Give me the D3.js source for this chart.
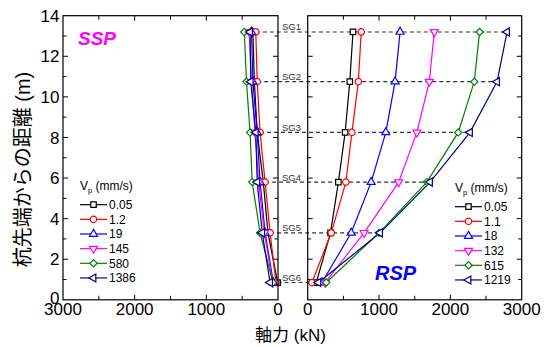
<!DOCTYPE html>
<html>
<head>
<meta charset="utf-8">
<script src="https://cdn.jsdelivr.net/npm/d3@7/dist/d3.min.js"></script>
<style>
  html, body { margin: 0; padding: 0; background: #fff; }
  svg { display: block; font-family: "Liberation Sans", Arial, "Noto Sans CJK JP", sans-serif; }
</style>
</head>
<body>
<svg id="chart" width="550" height="347"></svg>
<script>
// Strain gauge depths (m above pile tip) and names
const depths = [13.2, 10.75, 8.25, 5.8, 3.3, 0.85];
const gauges = ["SG1", "SG2", "SG3", "SG4", "SG5", "SG6"];

// SSP: loading rates (mm/s) and axial force (kN) at SG1..SG6
const sspRates = ["0.05", "1.2", "19", "145", "580", "1386"];
const ssp005  = [350, 330, 290, 205, 140, 5];
const ssp12   = [310, 290, 250, 180, 110, 28];
const ssp19   = [370, 350, 290, 250, 180, 65];
const ssp145  = [400, 370, 320, 270, 190, 75];
const ssp580  = [470, 440, 390, 360, 250, 70];
const ssp1386 = [390, 380, 310, 290, 220, 110];

// RSP: loading rates (mm/s) and axial force (kN) at SG1..SG6
const rspRates = ["0.05", "1.1", "18", "132", "615", "1219"];
const rsp005  = [635, 590, 525, 430, 320, 120];
const rsp11   = [750, 710, 620, 535, 330, 60];
const rsp18   = [1295, 1225, 1095, 890, 610, 200];
const rsp132  = [1775, 1705, 1530, 1275, 790, 245];
const rsp615  = [2410, 2335, 2110, 1670, 1000, 260];
const rsp1219 = [2795, 2655, 2275, 1715, 1015, 150];

// Axis ticks
const xTickLabels = [0, 1000, 2000, 3000];
const yTickLabels = [0, 2, 4, 6, 8, 10, 12, 14];

const colors = ["#000000", "#ff0000", "#0000ff", "#ff00ff", "#008000", "#000080"];
const shapes = ["square", "circle", "up", "down", "diamond", "left"];

const sspSeries = [ssp005, ssp12, ssp19, ssp145, ssp580, ssp1386];
const rspSeries = [rsp005, rsp11, rsp18, rsp132, rsp615, rsp1219];

const svg = d3.select("#chart");

const plotTop = 15.7, plotBottom = 299.8;
const y = d3.scaleLinear().domain([0, 14]).range([plotBottom, plotTop]);
const xL = d3.scaleLinear().domain([3000, 0]).range([63, 278]);
const xR = d3.scaleLinear().domain([0, 3000]).range([307.7, 521.7]);

function symbolPath(shape) {
  switch (shape) {
    case "square": return { d: d3.symbol(d3.symbolSquare, 30)(), rot: 0 };
    case "circle": return { d: d3.symbol(d3.symbolCircle, 33)(), rot: 0 };
    case "up": return { d: d3.symbol(d3.symbolTriangle, 28)(), rot: 0 };
    case "down": return { d: d3.symbol(d3.symbolTriangle, 28)(), rot: 180 };
    case "diamond": return { d: d3.symbol(d3.symbolSquare, 26)(), rot: 45 };
    case "left": return { d: d3.symbol(d3.symbolTriangle, 28)(), rot: -90 };
  }
}

function drawMarker(g, shape, color, cx, cy) {
  const s = symbolPath(shape);
  g.append("path")
    .attr("d", s.d)
    .attr("transform", `translate(${cx},${cy}) rotate(${s.rot})`)
    .attr("fill", "#fff")
    .attr("stroke", color)
    .attr("stroke-width", 1.2);
}

// Dashed gauge lines spanning both panels
const dash = svg.append("g");
depths.forEach((d, i) => {
  const leftMin = d3.min(sspSeries, s => s[i]);
  const rightMax = d3.max(rspSeries, s => s[i]);
  dash.append("line")
    .attr("x1", xL(leftMin)).attr("x2", xR(rightMax))
    .attr("y1", y(d)).attr("y2", y(d))
    .attr("stroke", "#333").attr("stroke-width", 1.1)
    .attr("stroke-dasharray", "4,3");
  dash.append("text")
    .attr("x", 282).attr("y", y(d) - 1.5)
    .attr("font-size", 9.5).attr("fill", "#333")
    .text(gauges[i]);
});

function drawPanel(x, series, showYLabels) {
  const g = svg.append("g");
  const [x0, x1] = x.range();
  // ticks every 500 kN on top and bottom, pointing inward
  const xt = d3.range(500, 3000, 500);
  xt.forEach(v => {
    const len = v % 1000 === 0 ? 5 : 4;
    g.append("line").attr("x1", x(v)).attr("x2", x(v)).attr("y1", plotBottom).attr("y2", plotBottom - len)
      .attr("stroke", "#000").attr("stroke-width", 1);
    g.append("line").attr("x1", x(v)).attr("x2", x(v)).attr("y1", plotTop).attr("y2", plotTop + len)
      .attr("stroke", "#000").attr("stroke-width", 1);
  });
  // ticks every 1 m on both sides, pointing inward
  d3.range(1, 14).forEach(v => {
    const len = v % 2 === 0 ? 5 : 3.5;
    g.append("line").attr("x1", x0).attr("x2", x0 + len).attr("y1", y(v)).attr("y2", y(v))
      .attr("stroke", "#000").attr("stroke-width", 1);
    g.append("line").attr("x1", x1).attr("x2", x1 - len).attr("y1", y(v)).attr("y2", y(v))
      .attr("stroke", "#000").attr("stroke-width", 1);
  });
  // x tick labels
  g.selectAll(".xl").data(xTickLabels).join("text")
    .attr("x", d => x(d)).attr("y", 314.5)
    .attr("text-anchor", "middle").attr("font-size", 17)
    .text(d => d);
  if (showYLabels) {
    g.selectAll(".yl").data(yTickLabels).join("text")
      .attr("x", 59.5).attr("y", d => y(d) - (d === 0 ? 1.5 : 0)).attr("dy", "0.36em")
      .attr("text-anchor", "end").attr("font-size", 17)
      .text(d => d);
  }
  // data lines and markers
  const line = d3.line().x(d => x(d[0])).y(d => y(d[1]));
  series.forEach((s, k) => {
    const pts = s.map((v, i) => [v, depths[i]]);
    g.append("path").attr("d", line(pts)).attr("fill", "none")
      .attr("stroke", colors[k]).attr("stroke-width", 1.2);
  });
  series.forEach((s, k) => {
    s.forEach((v, i) => drawMarker(g, shapes[k], colors[k], x(v), y(depths[i])));
  });
  // frame
  g.append("rect").attr("x", x0).attr("y", plotTop).attr("width", x1 - x0).attr("height", plotBottom - plotTop)
    .attr("fill", "none").attr("stroke", "#000").attr("stroke-width", 1.2);
}

drawPanel(xL, sspSeries, true);
drawPanel(xR, rspSeries, false);

function drawLegend(lx, titleY, rowY, labels) {
  const g = svg.append("g");
  const t = g.append("text").attr("x", lx).attr("y", titleY).attr("font-size", 12);
  t.append("tspan").text("V");
  t.append("tspan").attr("font-size", 7.5).attr("dy", 3).text("p");
  t.append("tspan").attr("dy", -3).text(" (mm/s)");
  labels.forEach((lab, k) => {
    const cy = rowY + k * 14.65;
    g.append("line").attr("x1", lx).attr("x2", lx + 27).attr("y1", cy).attr("y2", cy)
      .attr("stroke", colors[k]).attr("stroke-width", 1.2);
    drawMarker(g, shapes[k], colors[k], lx + 13.5, cy);
    g.append("text").attr("x", lx + 29).attr("y", cy + 4.3).attr("font-size", 12).text(lab);
  });
}

drawLegend(80, 190, 204.7, sspRates);
drawLegend(455, 192, 206.7, rspRates);

// panel names
svg.append("text").attr("x", 78).attr("y", 45).attr("font-size", 19)
  .attr("font-weight", "bold").attr("font-style", "italic").attr("fill", "#ff00ff").text("SSP");
svg.append("text").attr("x", 375).attr("y", 280).attr("font-size", 20)
  .attr("font-weight", "bold").attr("font-style", "italic").attr("fill", "#0000ff").text("RSP");

// axis titles
svg.append("text").attr("x", 290.5).attr("y", 341).attr("text-anchor", "middle")
  .attr("font-size", 17).text("軸力 (kN)");
svg.append("text").attr("transform", "translate(30,169.5) rotate(-90)")
  .attr("text-anchor", "middle").attr("font-size", 20).text("杭先端からの距離 (m)");
</script>
</body>
</html>
